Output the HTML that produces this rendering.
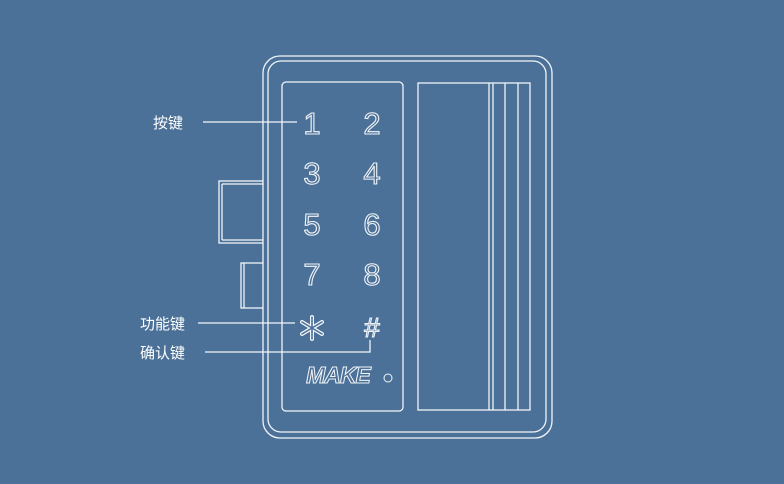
<!DOCTYPE html>
<html><head><meta charset="utf-8"><style>
html,body{margin:0;padding:0;background:#4b7199;}
svg{display:block}
</style></head><body>
<svg width="784" height="484" viewBox="0 0 784 484" xmlns="http://www.w3.org/2000/svg">
<rect width="784" height="484" fill="#4b7199"/>
<g fill="none" stroke="#f2f5f8" stroke-width="1.3">
<rect x="219" y="181" width="46" height="62"/>
<path d="M222 184 H263 M222 240 H263 M222 184 V240"/>
<rect x="241" y="263" width="24" height="45"/>
<path d="M244 263 V308"/>
<rect x="263" y="56" width="289" height="382" rx="17" fill="#4b7199"/>
<rect x="268" y="61" width="278" height="371" rx="13"/>
<rect x="282" y="82" width="121" height="329" rx="4"/>
<rect x="418" y="83" width="112" height="327"/>
<path d="M489 83 V410 M493 83 V410 M505 83 V410 M518 83 V410"/>
<path d="M203 122 H297 M198 323 H295 M205 352 H370 V340"/>
</g>
<g fill="none" stroke-linecap="round">
<path d="M312 317 V339 M302 322 L322 334 M302 334 L322 322" stroke="#f2f5f8" stroke-width="4"/>
<path d="M312 317 V339 M302 322 L322 334 M302 334 L322 322" stroke="#4b7199" stroke-width="1.6"/>
</g>
<g font-family="'Liberation Sans','DejaVu Sans',sans-serif" font-size="31" fill="none" stroke="#f2f5f8" stroke-width="1.1" text-anchor="middle">
<text x="312" y="134">1</text><text x="372" y="134">2</text>
<text x="312" y="184">3</text><text x="372" y="184">4</text>
<text x="312" y="235">5</text><text x="372" y="235">6</text>
<text x="312" y="285">7</text><text x="372" y="285">8</text>
<text x="372" y="337" font-size="28">#</text>
<text x="338" y="383" font-size="23" font-style="italic" font-weight="bold" letter-spacing="-1" stroke-width="1">MAKE</text>
</g>
<circle cx="388" cy="378" r="4" fill="none" stroke="#f2f5f8" stroke-width="1"/>
<g font-family="'Liberation Sans','Noto Sans CJK SC',sans-serif" font-size="15" fill="#ffffff">
<text x="153" y="128">按键</text>
<text x="140" y="329">功能键</text>
<text x="140" y="358">确认键</text>
</g>
</svg>
</body></html>
